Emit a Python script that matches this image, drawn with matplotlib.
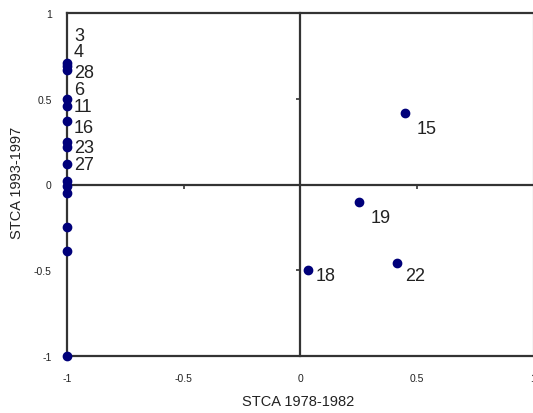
import matplotlib
matplotlib.use("Agg")
import matplotlib.pyplot as plt

plt.rcParams['font.family'] = ['Liberation Sans', 'DejaVu Sans']

# Points on the left edge (STCA 1978-1982 = -1)
left_y = [0.71, 0.69, 0.67, 0.50, 0.46, 0.37, 0.25, 0.22, 0.12, 0.02, -0.01, -0.05, -0.25, -0.39, -1.0]
left_labels = ["3", "4", "28", "6", "11", "16", "23", "", "27", "", "", "", "", "", ""]

# Points inside the plot
right_x = [0.451, 0.253, 0.034, 0.416]
right_y = [0.417, -0.102, -0.501, -0.458]
right_labels = ["15", "19", "18", "22"]

x_ticks = [-1, -0.5, 0, 0.5, 1]
x_tick_labels = ["-1", "-0.5", "0", "0.5", "1"]
y_ticks = [-1, -0.5, 0, 0.5, 1]
y_tick_labels = ["-1", "-0.5", "0", "0.5", "1"]

# label offsets in pixels (style)
left_offsets = [(7, 27), (7, 15), (7, -3), (7, 9), (7, -1), (7, -6), (7, -6), (7, 0), (7, -1),
                (7, 0), (7, 0), (7, 0), (7, 0), (7, 0), (7, 0)]
right_offsets = [(12, -16), (12, -16), (8, -5), (8, -12)]

W, H = 533, 414
fig = plt.figure(figsize=(W / 100, H / 100), dpi=100)
rect = [67 / W, (H - 357) / H, 466 / W, 343 / H]
ax = fig.add_axes(rect)
ax.set_xlim(-1, 1)
ax.set_ylim(-1, 1)

line_col = '#333333'
for s in ['left', 'top', 'bottom']:
    ax.spines[s].set_color(line_col)
    ax.spines[s].set_linewidth(1.6)
ax.spines['right'].set_color('#cccccc')
ax.spines['right'].set_linewidth(1.0)

ax.set_xticks(x_ticks)
ax.set_xticklabels(x_tick_labels)
ax.set_yticks(y_ticks)
ax.set_yticklabels(y_tick_labels)
ax.tick_params(axis='both', length=0, labelsize=7.5, colors='#222222')
ax.tick_params(axis='x', pad=12)
ax.tick_params(axis='y', pad=11)

# center crossing axes with ticks
ax2 = fig.add_axes(rect, frameon=True)
ax2.set_xlim(-1, 1)
ax2.set_ylim(-1, 1)
ax2.patch.set_alpha(0)
ax2.spines['top'].set_visible(False)
ax2.spines['right'].set_visible(False)
ax2.spines['left'].set_position(('data', 0))
ax2.spines['bottom'].set_position(('data', 0))
for s in ['left', 'bottom']:
    ax2.spines[s].set_color(line_col)
    ax2.spines[s].set_linewidth(1.6)
ax2.set_xticks([-0.5, 0.5])
ax2.set_yticks([-0.5, 0.5])
ax2.tick_params(axis='both', direction='out', length=3, width=1.2, color=line_col,
                labelbottom=False, labelleft=False)

marker_col = '#00007a'
ax2.plot([-1] * len(left_y), left_y, 'o', color=marker_col, markersize=6, clip_on=False, zorder=5)
ax2.plot(right_x, right_y, 'o', color=marker_col, markersize=6, clip_on=False, zorder=5)

for y, lab, off in zip(left_y, left_labels, left_offsets):
    if lab:
        ax2.annotate(lab, (-1, y), xytext=off, textcoords='offset pixels',
                     ha='left', va='center', fontsize=13, color='#222222')
for x, y, lab, off in zip(right_x, right_y, right_labels, right_offsets):
    ax2.annotate(lab, (x, y), xytext=off, textcoords='offset pixels',
                 ha='left', va='center', fontsize=13, color='#222222')

fig.text(298 / W, 1 - 402 / H, "STCA 1978-1982", ha='center', va='center', fontsize=10.5, color='#222222')
fig.text(17 / W, 1 - 183 / H, "STCA 1993-1997", ha='center', va='center', rotation=90,
         fontsize=10.5, color='#222222')

fig.savefig("out.png", dpi=100)
